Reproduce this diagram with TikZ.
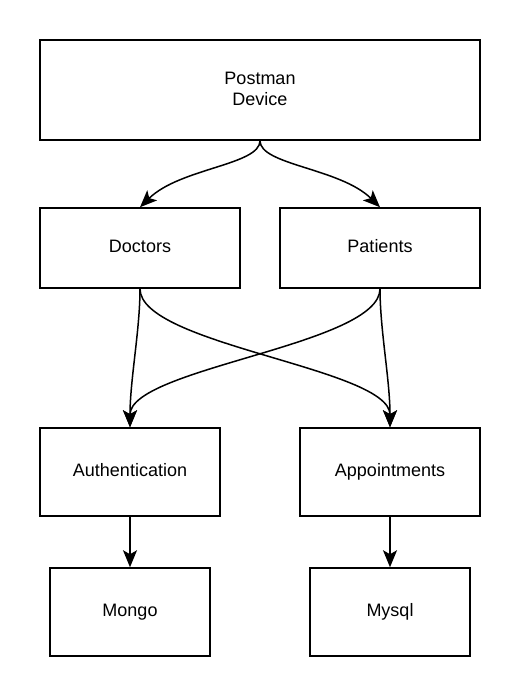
\documentclass[tikz,border=0pt]{standalone}
\usepackage{fontspec}
\setmainfont{Liberation Sans}
\usetikzlibrary{arrows.meta}
\tikzset{
  box/.style={draw, line width=1.5pt, minimum width=#1, inner sep=0pt, text height=13pt, text depth=4pt, font=\fontsize{18}{21}\selectfont, align=center},
  arr/.style={line width=1.5pt, -{Stealth[length=17pt, width=14pt, inset=4pt]}}
}
\begin{document}
\begin{tikzpicture}[x=1pt, y=-1pt]
    \useasboundingbox (0,0) rectangle (520,696);
    \node[box=440pt, minimum height=100pt, text height=34pt] (postman) at (260,90) {Postman\\Device};
    \node[box=200pt, minimum height=80pt] (doctors) at (140,248) {Doctors};
    \node[box=200pt, minimum height=80pt] (patients) at (380,248) {Patients};
    \node[box=180pt, minimum height=88pt] (auth) at (130,472) {Authentication};
    \node[box=180pt, minimum height=88pt] (appoint) at (390,472) {Appointments};
    \node[box=160pt, minimum height=88pt] (mongo) at (130,612) {Mongo};
    \node[box=160pt, minimum height=88pt] (mysql) at (390,612) {Mysql};
    \draw[arr] (postman.south) .. controls (260,165) and (180,168) .. (doctors.north);
    \draw[arr] (postman.south) .. controls (260,165) and (340,168) .. (patients.north);
    \draw[arr] (doctors.south) .. controls (140,330) and (130,380) .. (auth.north);
    \draw[arr] (doctors.south) .. controls (140,345) and (390,368) .. (appoint.north);
    \draw[arr] (patients.south) .. controls (380,345) and (130,368) .. (auth.north);
    \draw[arr] (patients.south) .. controls (380,330) and (390,380) .. (appoint.north);
    \draw[arr] (auth) -- (mongo);
    \draw[arr] (appoint) -- (mysql);
\end{tikzpicture}
\end{document}
